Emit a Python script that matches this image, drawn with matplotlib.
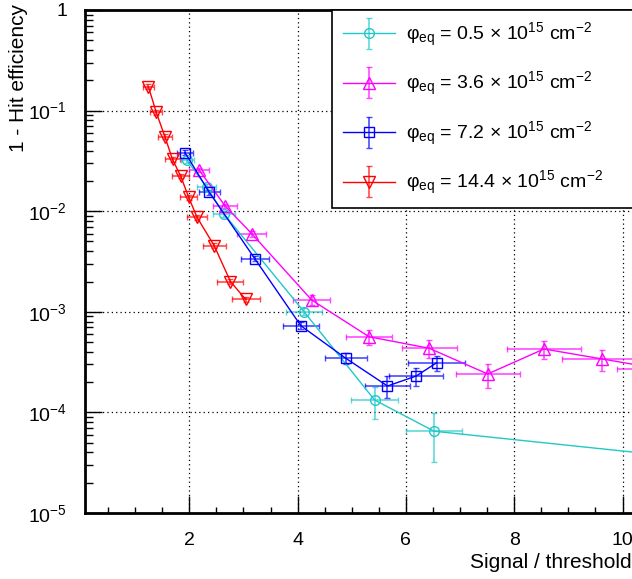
import numpy as np
import matplotlib
matplotlib.use('Agg')
from matplotlib import pyplot as plt
from matplotlib.ticker import FixedLocator, FuncFormatter, LogLocator, NullFormatter
from matplotlib.container import ErrorbarContainer
from matplotlib.legend_handler import HandlerErrorbar

plt.rcParams['font.family'] = ['Liberation Sans', 'DejaVu Sans']
plt.rcParams['mathtext.fontset'] = 'custom'
plt.rcParams['mathtext.rm'] = 'Liberation Sans'
plt.rcParams['mathtext.it'] = 'Liberation Sans:italic'
plt.rcParams['mathtext.bf'] = 'Liberation Sans:bold'

# data (last cyan / magenta point lies beyond the frame)
cyan_x = [1.96, 2.32, 2.64, 4.12, 5.42, 6.52, 11.5]
cyan_y = [0.032, 0.0173, 0.0094, 1.0e-3, 1.33e-4, 6.5e-5, 3.4e-5]
cyan_xerr = [0.12, 0.18, 0.21, 0.33, 0.44, 0.52, 0.8]
cyan_yerr = [0.002, 0.0012, 0.0007, 0.8e-4, 0.47e-4, 3.3e-5, 2.5e-5]

magenta_x = [2.18, 2.66, 3.15, 4.26, 5.32, 6.43, 7.51, 8.55, 9.62, 10.7]
magenta_y = [0.0257, 0.0113, 6.0e-3, 1.31e-3, 5.65e-4, 4.34e-4, 2.41e-4, 4.27e-4, 3.4e-4, 2.7e-4]
magenta_xerr = [0.18, 0.22, 0.26, 0.34, 0.42, 0.51, 0.59, 0.69, 0.74, 0.8]
magenta_yerr = [0.0012, 0.0006, 0.0004, 1.5e-4, 0.95e-4, 0.9e-4, 0.65e-4, 0.9e-4, 0.8e-4, 0.8e-4]

blue_x = [1.92, 2.37, 3.21, 4.06, 4.89, 5.66, 6.19, 6.57]
blue_y = [0.0382, 0.0154, 3.37e-3, 7.27e-4, 3.45e-4, 1.83e-4, 2.3e-4, 3.12e-4]
blue_xerr = [0.15, 0.19, 0.26, 0.33, 0.39, 0.42, 0.5, 0.53]
blue_yerr = [0.002, 0.0009, 0.0002, 0.6e-4, 0.45e-4, 0.45e-4, 0.48e-4, 0.55e-4]

red_x = [1.245, 1.39, 1.55, 1.69, 1.84, 1.99, 2.14, 2.46, 2.76, 3.04]
red_y = [0.173, 0.096, 0.055, 0.0327, 0.0224, 0.0137, 8.75e-3, 4.54e-3, 2.0e-3, 1.33e-3]
red_xerr = [0.10, 0.11, 0.13, 0.13, 0.16, 0.16, 0.18, 0.21, 0.24, 0.26]
red_yerr = [0.01, 0.005, 0.003, 0.0017, 0.0012, 0.0007, 0.0005, 0.00025, 0.00012, 0.00008]

labels = [r'$\mathrm{φ_{eq}}$ = 0.5 $\times$ 10$^{15}$ cm$^{-2}$',
          r'$\mathrm{φ_{eq}}$ = 3.6 $\times$ 10$^{15}$ cm$^{-2}$',
          r'$\mathrm{φ_{eq}}$ = 7.2 $\times$ 10$^{15}$ cm$^{-2}$',
          r'$\mathrm{φ_{eq}}$ = 14.4 $\times$ 10$^{15}$ cm$^{-2}$']

W, H = 632, 579
fig = plt.figure(figsize=(W / 100, H / 100), dpi=100)
ax = fig.add_axes([85 / W, 1 - 513 / H, (632 - 85) / W, (513 - 10) / H])

series = [
    (cyan_x, cyan_y, cyan_xerr, cyan_yerr, '#20c8c8', 'o', 7),
    (magenta_x, magenta_y, magenta_xerr, magenta_yerr, '#ff00ff', '^', 8),
    (blue_x, blue_y, blue_xerr, blue_yerr, '#0000ff', 's', 7),
    (red_x, red_y, red_xerr, red_yerr, '#ff0000', 'v', 8),
]

handles = []
for (x, y, xe, ye, col, mk, ms), lab in zip(series, labels):
    c = ax.errorbar(x, y, xerr=xe, yerr=ye, fmt='-', marker=mk, ms=ms,
                    mfc='none', mec=col, mew=1.0, color=col, lw=1.0,
                    ecolor=col, elinewidth=1.2, capsize=2.2, capthick=1.2,
                    zorder=3)
    for cl in c[1]:
        cl.set_alpha(0.7)
    for bl in c[2]:
        bl.set_alpha(0.7)
    handles.append(ErrorbarContainer(c.lines, has_xerr=False,
                                     has_yerr=True, label=lab))

ax.set_yscale('log')
ax.set_xlim(0.074, 10.175)
ax.set_ylim(1e-5, 1)

ax.xaxis.set_major_locator(FixedLocator([2, 4, 6, 8, 10]))
ax.xaxis.set_minor_locator(FixedLocator(np.arange(0.5, 10.2, 0.5)))
ax.yaxis.set_major_locator(LogLocator(base=10, numticks=10))
ax.yaxis.set_minor_locator(LogLocator(base=10, subs=np.arange(2, 10), numticks=20))
ax.yaxis.set_minor_formatter(NullFormatter())


def yfmt(v, pos):
    e = int(round(np.log10(v)))
    if e == 0:
        return '1'
    return r'$\mathdefault{10^{%d}}$' % e


ax.yaxis.set_major_formatter(FuncFormatter(yfmt))

ax.tick_params(which='both', direction='in', labelsize=14, top=False, right=False)
ax.tick_params(which='major', length=12, width=1.0)
ax.tick_params(which='minor', length=6, width=1.0)
ax.tick_params(axis='x', which='minor', length=4.5)
ax.tick_params(axis='x', pad=14)
ax.tick_params(axis='y', pad=13)

ax.grid(True, which='major', color='black', ls=(0, (1, 2.5)), lw=0.9)
for s in ['left', 'bottom', 'top']:
    ax.spines[s].set_linewidth(2.0)
ax.spines['right'].set_visible(False)

fig.text(19 / W, 1 - 4 / H, '1 - Hit efficiency', rotation=90, ha='center',
         va='top', fontsize=15)
fig.text(632 / W, 1 - 563 / H, 'Signal / threshold', ha='right',
         va='center', fontsize=15)

leg = ax.legend(handles=handles, loc='upper left',
                bbox_to_anchor=(332 / W, 1 - 10 / H - 0.5, 330 / W, 0.5),
                bbox_transform=fig.transFigure, mode='expand',
                fontsize=14, frameon=True, fancybox=False, framealpha=1,
                edgecolor='black', borderaxespad=0, borderpad=0.55,
                labelspacing=1.1, handlelength=2.7, handletextpad=0.55,
                handler_map={ErrorbarContainer: HandlerErrorbar(yerr_size=0.8)})
leg.get_frame().set_linewidth(1.2)
leg.set_zorder(10)

fig.savefig('out.png', dpi=100)
